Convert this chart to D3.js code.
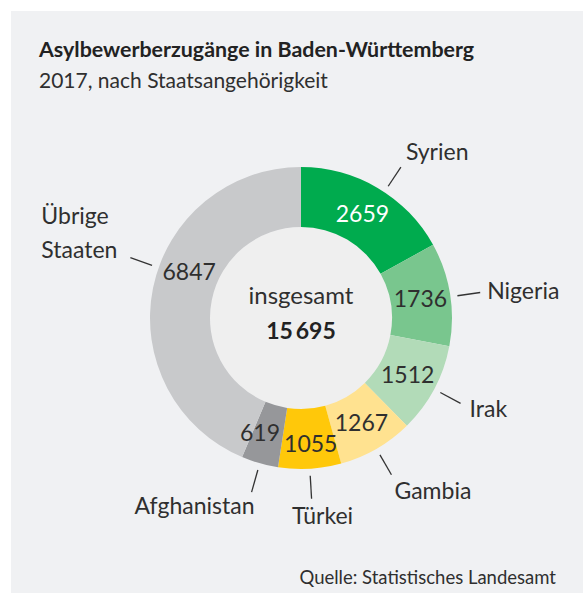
<!DOCTYPE html>
<html>
<head>
<meta charset="utf-8">
<script src="https://cdn.jsdelivr.net/npm/d3@7"></script>
<style>
  html, body { margin: 0; padding: 0; background: #ffffff; }
  svg { display: block; }
  text { font-family: Lato, "Open Sans", sans-serif; fill: #2f2f2f; }
</style>
</head>
<body>
<div id="chart"></div>
<script>
// ---- data ----
const categories = ["Syrien", "Nigeria", "Irak", "Gambia", "Türkei", "Afghanistan", "Übrige Staaten"];
const values = [2659, 1736, 1512, 1267, 1055, 619, 6847];
const colors = ["#00ab4e", "#79c68e", "#b2dbb8", "#ffe290", "#ffc80a", "#96979a", "#c8c9cb"];
const valueColors = ["#ffffff", "#2f2f2f", "#2f2f2f", "#2f2f2f", "#2f2f2f", "#2f2f2f", "#2f2f2f"];
const totalLabel = "insgesamt";
const title = "Asylbewerberzugänge in Baden-Württemberg";
const subtitle = "2017, nach Staatsangehörigkeit";
const source = "Quelle: Statistisches Landesamt";

// ---- layout config ----
const W = 583, H = 593;
const cx = 301, cy = 318, rOuter = 151, rInner = 91;
// label layout: angle shift (deg) for leader, text anchor, offsets from leader end
const labelCfg = [
  { shift: 3,  anchor: "start",  dx: 5,   dy: -7 },
  { shift: 1,  anchor: "start",  dx: 7,   dy: 6 },
  { shift: 0,  anchor: "start",  dx: 9,   dy: 14 },
  { shift: 0,  anchor: "start",  dx: 3,   dy: 24 },
  { shift: 0,  anchor: "middle", dx: 11,  dy: 25 },
  { shift: 0,  anchor: "end",    dx: 3,   dy: 22 },
  { shift: 8,  anchor: "start",  dx: -89, dy: 0 }
];
const valueShift = [0, 0, 0, 0, -1.1, 3.8, 11];
const valueR = [0, 0, 0, 0, 5, 1, 0];

const svg = d3.select("#chart").append("svg").attr("width", W).attr("height", H);

svg.append("rect").attr("x", 11).attr("y", 11).attr("width", W - 11).attr("height", H - 11)
  .attr("fill", "#f0f1f3");

svg.append("text").attr("x", 39).attr("y", 57).attr("font-size", 21.4).attr("font-weight", 700)
  .style("fill", "#222").text(title);
svg.append("text").attr("x", 39).attr("y", 87.5).attr("font-size", 21).text(subtitle);
svg.append("text").attr("x", 556).attr("y", 584).attr("text-anchor", "end").attr("font-size", 18.5).text(source);

const g = svg.append("g").attr("transform", `translate(${cx},${cy})`);

const pie = d3.pie().sort(null).value(d => d);
const arcs = pie(values);
const arc = d3.arc().innerRadius(rInner).outerRadius(rOuter);

g.append("circle").attr("r", rInner).attr("fill", "#efefef");

g.selectAll("path.slice").data(arcs).join("path")
  .attr("class", "slice")
  .attr("d", arc)
  .attr("fill", (d, i) => colors[i]);

const deg = Math.PI / 180;
const pt = (a, r) => [Math.sin(a) * r, -Math.cos(a) * r];
const mid = d => (d.startAngle + d.endAngle) / 2;

// value labels
g.selectAll("text.val").data(arcs).join("text")
  .attr("class", "val")
  .each(function (d, i) {
    const a = mid(d) + valueShift[i] * deg;
    const [x, y] = pt(a, (rInner + rOuter) / 2 + valueR[i]);
    d3.select(this).attr("x", x).attr("y", y).attr("dy", "0.35em");
  })
  .attr("text-anchor", "middle")
  .attr("font-size", 23)
  .style("fill", (d, i) => valueColors[i])
  .text(d => d.data);

// leader lines + category labels
arcs.forEach((d, i) => {
  const a = mid(d) + labelCfg[i].shift * deg;
  const p0 = pt(a, 158), p1 = pt(a, 181);
  g.append("line").attr("x1", p0[0]).attr("y1", p0[1]).attr("x2", p1[0]).attr("y2", p1[1])
    .attr("stroke", "#333").attr("stroke-width", 1.3);
  const c = labelCfg[i];
  const t = g.append("text").attr("text-anchor", c.anchor).attr("font-size", 23);
  const words = categories[i].split(" ");
  if (words.length > 1) {
    words.forEach((w, k) => {
      t.append("tspan").attr("x", p1[0] + c.dx).attr("y", p1[1] + c.dy - (words.length - 1 - k) * 33.5).text(w);
    });
  } else {
    t.attr("x", p1[0] + c.dx).attr("y", p1[1] + c.dy).text(categories[i]);
  }
});

// center total
const total = d3.sum(values);
g.append("text").attr("text-anchor", "middle").attr("y", -14).attr("font-size", 24).text(totalLabel);
g.append("text").attr("text-anchor", "middle").attr("y", 20.5).attr("font-size", 23).attr("font-weight", 700)
  .style("fill", "#222")
  .text(d3.format(",")(total).replace(",", "\u2009"));
</script>
</body>
</html>
